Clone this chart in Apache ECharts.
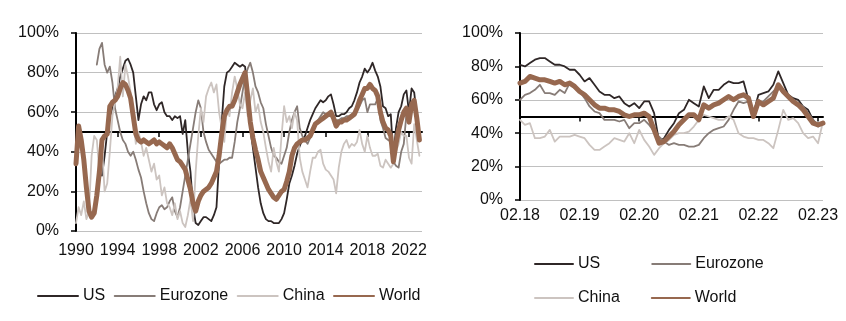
<!DOCTYPE html>
<html>
<head>
<meta charset="utf-8">
<script src="https://cdn.jsdelivr.net/npm/echarts@6/dist/echarts.min.js"></script>
<style>
  html, body { margin: 0; padding: 0; background: #ffffff; }
  #chart { width: 846px; height: 321px; }
</style>
</head>
<body>
<div id="chart"></div>
<script>
// Series names, shared by both panels
const seriesNames = ['US', 'Eurozone', 'China', 'World'];

// ---- Long history (left panel): quarterly readings from 1990 Q1, in % ----
const longStartYear = 1990;
const longTickYears = [1990, 1994, 1998, 2002, 2006, 2010, 2014, 2018, 2022];

const usLong = [
  null, null, null, null,   // 1990
  null, null, null, null,   // 1991
  null, null, 28, 38,       // 1992
  50, 58, 62, 68,           // 1993
  72, 78, 82, 86,           // 1994
  87, 84, 80, 68,           // 1995
  56, 64, 68, 66,           // 1996
  70, 70, 64, 61,           // 1997
  64, 65, 60, 58,           // 1998
  58, 56, 58, 57,           // 1999
  58, 49, 56, 40,           // 2000
  30, 12, 4, 3,             // 2001
  5, 7, 7, 6,               // 2002
  5, 8, 12, 35,             // 2003
  55, 73, 80, 81,           // 2004
  83, 85, 84, 83,           // 2005
  84, 83, 68, 52,           // 2006
  42, 32, 22, 14,           // 2007
  9, 6, 5, 5,               // 2008
  4, 4, 4, 6,               // 2009
  9, 16, 24, 28,            // 2010
  33, 39, 43, 46,           // 2011
  48, 52, 56, 59,           // 2012
  62, 64, 66, 65,           // 2013
  66, 68, 69, 64,           // 2014
  58, 58, 59, 59,           // 2015
  60, 62, 63, 66,           // 2016
  70, 75, 78, 82,           // 2017
  80, 82, 85, 81,           // 2018
  78, 73, 63, 62,           // 2019
  58, 59, 37, 52,           // 2020
  60, 63, 69, 71,           // 2021
  60, 72, 70, 58,           // 2022
  46                        // 2023
];

const eurozoneLong = [
  null, null, null, null,   // 1990
  null, null, null, null,   // 1991
  84, 92, 95, 84,           // 1992
  80, 83, 75, 62,           // 1993
  56, 50, 46, 44,           // 1994
  40, 38, 40, 36,           // 1995
  31, 27, 20, 14,           // 1996
  9, 6, 5, 9,               // 1997
  12, 13, 11, 12,           // 1998
  15, 17, 10, 7,            // 1999
  12, 20, 28, 36,           // 2000
  44, 52, 60, 66,           // 2001
  62, 50, 45, 41,           // 2002
  39, 37, 35, 34,           // 2003
  35, 36, 36, 37,           // 2004
  37, 45, 55, 62,           // 2005
  70, 78, 82, 85,           // 2006
  80, 73, 70, 65,           // 2007
  62, 54, 48, 42,           // 2008
  38, 37, 35, 34,           // 2009
  38, 42, 50, 56,           // 2010
  60, 63, 52, 48,           // 2011
  46, 44, 47, 50,           // 2012
  53, 56, 58, 60,           // 2013
  59, 58, 58, 57,           // 2014
  56, 56, 57, 57,           // 2015
  58, 58, 59, 60,           // 2016
  61, 63, 66, 67,           // 2017
  60, 64, 64, 64,           // 2018
  67, 56, 52, 47,           // 2019
  46, 45, 35, 33,           // 2020
  32, 40, 44, 59,           // 2021
  57, 62, 64, 56,           // 2022
  48                        // 2023
];

const chinaLong = [
  4, 12, 8, 15,             // 1990
  6, 10, 38, 48,            // 1991
  46, 30, 42, 20,           // 1992
  24, 40, 58, 66,           // 1993
  72, 88, 68, 84,           // 1994
  78, 70, 56, 44,           // 1995
  50, 45, 38, 42,           // 1996
  36, 30, 34, 26,           // 1997
  28, 18, 22, 14,           // 1998
  12, 8, 14, 6,             // 1999
  10, 4, 2, 8,              // 2000
  16, 5, 30, 48,            // 2001
  62, 55, 68, 72,           // 2002
  75, 70, 74, 60,           // 2003
  52, 45, 62, 58,           // 2004
  70, 78, 72, 64,           // 2005
  62, 70, 58, 66,           // 2006
  72, 60, 64, 55,           // 2007
  50, 42, 35, 30,           // 2008
  42, 35, 30, 48,           // 2009
  63, 55, 58, 52,           // 2010
  60, 56, 37, 30,           // 2011
  26, 22, 30, 37,           // 2012
  37, 40, 41, 34,           // 2013
  31, 30, 28, 26,           // 2014
  19, 32, 40, 44,           // 2015
  46, 42, 44, 43,           // 2016
  45, 51, 44, 40,           // 2017
  48, 42, 38, 38,           // 2018
  39, 33, 32, 36,           // 2019
  34, 32, 34, 40,           // 2020
  44, 50, 48, 48,           // 2021
  37, 34, 54, 46,           // 2022
  38                        // 2023
];

const worldLong = [
  34, 53, 46, 36,           // 1990
  22, 10, 7, 9,             // 1991
  18, 30, 46, 48,           // 1992
  49, 63, 65, 66,           // 1993
  68, 72, 75, 74,           // 1994
  71, 67, 58, 49,           // 1995
  46, 45, 46, 45,           // 1996
  44, 45, 46, 44,           // 1997
  45, 44, 43, 42,           // 1998
  44, 42, 39, 36,           // 1999
  35, 33, 31, 26,           // 2000
  21, 14, 10, 15,           // 2001
  18, 20, 21, 22,           // 2002
  24, 27, 30, 38,           // 2003
  49, 58, 61, 63,           // 2004
  63, 66, 70, 74,           // 2005
  77, 80, 68, 55,           // 2006
  47, 41, 36, 30,           // 2007
  27, 24, 21, 19,           // 2008
  17, 16, 18, 20,           // 2009
  21, 25, 30, 38,           // 2010
  42, 44, 45, 46,           // 2011
  46, 47, 48, 51,           // 2012
  54, 55, 56, 57,           // 2013
  58, 59, 60, 57,           // 2014
  53, 55, 55, 56,           // 2015
  56, 57, 58, 59,           // 2016
  62, 66, 69, 72,           // 2017
  72, 74, 72, 71,           // 2018
  68, 60, 55, 52,           // 2019
  51, 48, 35, 44,           // 2020
  51, 56, 60, 62,           // 2021
  55, 64, 66, 57,           // 2022
  46                        // 2023
];

// ---- Recent history (right panel): monthly readings from Feb 2018 to Mar 2023, in % ----
const recentStart = { year: 2018, month: 2 };

const usRecent = [
  81, 80, 82, 84, 85, 85, 83, 81, 81, 80,
  78, 78, 75, 71, 73, 69, 65, 63, 63, 61,
  62, 58, 56, 58, 55, 59, 59, 52, 35, 37,
  42, 46, 52, 54, 60, 58, 56, 68, 61, 66,
  66, 69, 71, 70, 70, 71, 60, 52, 63, 64,
  65, 69, 77, 70, 63, 61, 60, 56, 54, 48,
  44, 46
];

const eurozoneRecent = [
  60, 63, 64, 66, 69, 64, 64, 63, 66, 64,
  70, 67, 65, 61, 56, 53, 52, 48, 48, 48,
  47, 48, 43, 46, 46, 48, 45, 41, 38, 35,
  33, 34, 33, 33, 32, 32, 33, 37, 40, 42,
  43, 44, 48, 54, 59, 58, 59, 54, 57, 59,
  62, 65, 68, 64, 61, 60, 58, 56, 52, 48,
  45, 46
];

const chinaRecent = [
  48, 45, 46, 37, 37, 38, 42, 35, 38, 38,
  38, 39, 38, 37, 33, 30, 30, 32, 34, 37,
  36, 35, 40, 34, 42, 36, 32, 27, 31, 34,
  36, 39, 40, 40, 41, 44, 48, 51, 50, 49,
  48, 48, 50, 48, 40, 38, 37, 37, 36, 36,
  34, 31, 42, 54, 48, 49, 46, 40, 37, 38,
  34, 47
];

const worldRecent = [
  70, 71, 74, 73, 72, 72, 71, 70, 71, 69,
  70, 68, 65, 63, 60, 57, 55, 55, 54, 54,
  53, 51, 50, 51, 51, 52, 50, 42, 34, 35,
  38, 41, 45, 48, 51, 51, 48, 57, 55, 57,
  58, 60, 62, 60, 62, 63, 61, 50, 59, 57,
  59, 61, 69, 65, 62, 59, 57, 54, 50, 46,
  45, 46
];

// ---- Styling ----
const colors = {
  US: '#2f2727',
  Eurozone: '#877c77',
  China: '#ccc4c0',
  World: '#97684f'
};
const widths = { US: 1.8, Eurozone: 1.8, China: 1.8, World: 5 };
const fontFamily = "'Liberation Sans', Arial, sans-serif";
const textColor = '#111111';
const gridColor = '#c0c0c0';

// month labels "MM.YY" for the monthly axis
const recentLabels = usRecent.map((_, i) => {
  const m0 = recentStart.month - 1 + i;
  const y = recentStart.year + Math.floor(m0 / 12);
  const m = (m0 % 12) + 1;
  return String(m).padStart(2, '0') + '.' + String(y % 100).padStart(2, '0');
});

// quarterly positions (in years) for the long history
const toPairs = arr => arr.map((v, i) => [longStartYear + i * 0.25, v]);

const longData = { US: usLong, Eurozone: eurozoneLong, China: chinaLong, World: worldLong };
const recentData = { US: usRecent, Eurozone: eurozoneRecent, China: chinaRecent, World: worldRecent };

function lineSeries(name, xIdx, yIdx, data) {
  return {
    name: name,
    type: 'line',
    xAxisIndex: xIdx,
    yAxisIndex: yIdx,
    data: data,
    symbol: 'none',
    showSymbol: false,
    connectNulls: false,
    lineStyle: { color: colors[name], width: widths[name], join: 'round', cap: 'round' },
    itemStyle: { color: colors[name] },
    emphasis: { disabled: true }
  };
}

const pctAxis = gridIndex => ({
  type: 'value',
  gridIndex: gridIndex,
  min: 0,
  max: 100,
  interval: 20,
  axisLine: { show: true, lineStyle: { color: '#000', width: 2 } },
  axisTick: { show: true, length: 5, lineStyle: { color: '#000', width: 1.5 } },
  axisLabel: { formatter: '{value}%', margin: 17, fontSize: 16, color: textColor, fontFamily: fontFamily },
  splitLine: { show: true, lineStyle: { color: gridColor, width: 1 } }
});

const hiddenHalfAxis = gridIndex => ({
  type: 'value', gridIndex: gridIndex, min: 50, max: 100, show: false
});

const legendText = { fontSize: 16, color: textColor, fontFamily: fontFamily };
// legend keys are plain line strokes, no marker dot
const legendMarker = { opacity: 0 };

const option = {
  animation: false,
  backgroundColor: '#ffffff',
  grid: [
    { left: 76, top: 33, width: 346, height: 198 },
    { left: 76, top: 33, width: 346, height: 99 },
    { left: 520, top: 33, width: 303, height: 167 },
    { left: 520, top: 33, width: 303, height: 83.5 }
  ],
  xAxis: [
    {
      type: 'value', gridIndex: 0, min: 1990, max: 2023.25,
      axisLine: { show: false }, axisTick: { show: false }, splitLine: { show: false },
      axisLabel: {
        customValues: longTickYears, margin: 12, fontSize: 16, color: textColor, fontFamily: fontFamily,
        formatter: v => String(v), alignMinLabel: 'center', alignMaxLabel: 'center'
      }
    },
    {
      // 50% reference line with year ticks
      type: 'value', gridIndex: 1, min: 1990, max: 2023.25,
      axisLine: { show: true, lineStyle: { color: '#000', width: 2 } },
      axisTick: { show: true, customValues: longTickYears, length: 5, lineStyle: { color: '#000', width: 1.5 } },
      axisLabel: { show: false }, splitLine: { show: false }
    },
    {
      type: 'category', gridIndex: 2, data: recentLabels, boundaryGap: false,
      axisLine: { show: false }, axisTick: { show: false }, splitLine: { show: false },
      axisLabel: {
        interval: 11, margin: 8, fontSize: 16, color: textColor, fontFamily: fontFamily,
        alignMinLabel: 'center', alignMaxLabel: 'center'
      }
    },
    {
      // 50% reference line with yearly ticks
      type: 'category', gridIndex: 3, data: recentLabels, boundaryGap: false,
      axisLine: { show: true, lineStyle: { color: '#000', width: 2 } },
      axisTick: { show: true, interval: 11, length: 5, lineStyle: { color: '#000', width: 1.5 } },
      axisLabel: { show: false }, splitLine: { show: false }
    }
  ],
  yAxis: [pctAxis(0), hiddenHalfAxis(1), pctAxis(2), hiddenHalfAxis(3)],
  legend: [
    {
      left: 37, top: 288, padding: 0, itemWidth: 40, itemHeight: 14, itemGap: 8.5,
      data: seriesNames, textStyle: legendText, itemStyle: legendMarker, selectedMode: false
    },
    {
      left: 534, top: 256, padding: 0, itemWidth: 38, itemHeight: 14, itemGap: 51,
      data: ['US', 'Eurozone'], textStyle: legendText, itemStyle: legendMarker, selectedMode: false
    },
    {
      left: 534, top: 290, padding: 0, itemWidth: 38, itemHeight: 14, itemGap: 31,
      data: ['China', 'World'], textStyle: legendText, itemStyle: legendMarker, selectedMode: false
    }
  ],
  series: [
    ...seriesNames.map(n => lineSeries(n, 0, 0, toPairs(longData[n]))),
    ...seriesNames.map(n => lineSeries(n, 2, 2, recentData[n]))
  ]
};

const chart = echarts.init(document.getElementById('chart'), null, { renderer: 'canvas' });
chart.setOption(option);
</script>
</body>
</html>
